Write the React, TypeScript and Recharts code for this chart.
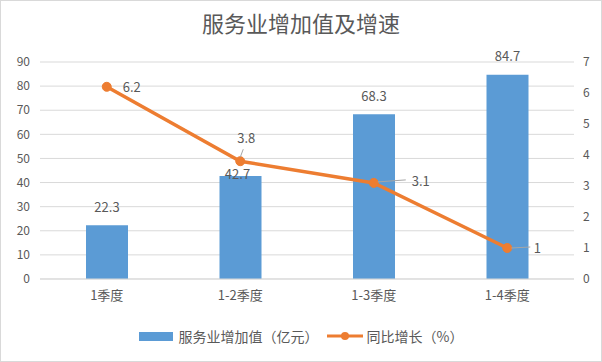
import { ComposedChart, Bar, Line, XAxis, YAxis, CartesianGrid, Legend, LabelList } from "recharts";

const quarters = ["1季度", "1-2季度", "1-3季度", "1-4季度"];
const valueAdded = [22.3, 42.7, 68.3, 84.7];
const growthRate = [6.2, 3.8, 3.1, 1];
const leftTicks = [0, 10, 20, 30, 40, 50, 60, 70, 80, 90];
const rightTicks = [0, 1, 2, 3, 4, 5, 6, 7];

const data = quarters.map((q, i) => ({ quarter: q, value: valueAdded[i], growth: growthRate[i] }));

const FONT = '"Noto Sans CJK SC", "Microsoft YaHei", sans-serif';
const TEXT = "#595959";
const GRID = "#D9D9D9";
const BLUE = "#5B9BD5";
const ORANGE = "#ED7D31";

// label placement, excel-style (bar labels sit above the bar, one nudged down)
const barLabelShift = [
  { dx: 0, dy: -19 },
  { dx: -3, dy: -3 },
  { dx: 0, dy: -19 },
  { dx: 0, dy: -19 },
];
const lineLabelShift = [
  { dx: 25, dy: 0, leader: null },
  { dx: 6, dy: -24, leader: [3, -12, 0, -4] },
  { dx: 47, dy: -2, leader: [4, -1, 32, -3] },
  { dx: 30, dy: -1, leader: [4, 0, 23, -1] },
];

function BarValue(props: any) {
  const { x, y, width, value, index } = props;
  const s = barLabelShift[index];
  return (
    <text x={x + width / 2 + s.dx} y={y + s.dy} textAnchor="middle" dominantBaseline="central" fill={TEXT} fontSize={13} fontFamily={FONT}>
      {value}
    </text>
  );
}

function LineValue(props: any) {
  const { x, y, value, index } = props;
  const s = lineLabelShift[index];
  return (
    <g>
      {s.leader && (
        <line x1={x + s.leader[0]} y1={y + s.leader[1]} x2={x + s.leader[2]} y2={y + s.leader[3]} stroke="#A6A6A6" strokeWidth={1} />
      )}
      <text x={x + s.dx} y={y + s.dy} textAnchor="middle" dominantBaseline="central" fill={TEXT} fontSize={13} fontFamily={FONT}>
        {value}
      </text>
    </g>
  );
}

function LegendBox() {
  return (
    <div style={{ height: 24, display: "flex", justifyContent: "center", alignItems: "center", fontFamily: FONT, fontSize: 14, color: TEXT }}>
      <span style={{ display: "inline-block", width: 34, height: 9, background: BLUE, marginRight: 6 }} />
      <span>服务业增加值（亿元）</span>
      <svg width={36} height={10} style={{ marginLeft: 8, marginRight: 4 }}>
        <line x1={0} y1={5} x2={36} y2={5} stroke={ORANGE} strokeWidth={3} />
        <circle cx={18} cy={5} r={4} fill={ORANGE} />
      </svg>
      <span>同比增长（%）</span>
    </div>
  );
}

export default function App() {
  return (
    <div style={{ position: "absolute", left: 0, top: 0, width: 602, height: 362, background: "#fff" }}>
      <div style={{ position: "absolute", top: 8, left: 0, width: 602, textAlign: "center", fontFamily: FONT, fontSize: 22, color: TEXT, lineHeight: "28px" }}>
        服务业增加值及增速
      </div>
      <ComposedChart width={602} height={362} data={data} margin={{ top: 62, right: 0, bottom: 14, left: 0 }}>
        <CartesianGrid yAxisId="left" vertical={false} stroke={GRID} />
        <XAxis
          dataKey="quarter"
          height={45}
          tickSize={0}
          tickMargin={12}
          axisLine={{ stroke: GRID }}
          tick={{ fill: TEXT, fontSize: 13, fontFamily: FONT }}
        />
        <YAxis
          yAxisId="left"
          width={40}
          domain={[0, 90]}
          ticks={leftTicks}
          axisLine={false}
          tickLine={false}
          tickSize={0}
          tickMargin={10}
          tick={{ fill: TEXT, fontSize: 12, fontFamily: FONT }}
        />
        <YAxis
          yAxisId="right"
          orientation="right"
          width={28}
          domain={[0, 7]}
          ticks={rightTicks}
          axisLine={false}
          tickLine={false}
          tickSize={0}
          tickMargin={9}
          tick={{ fill: TEXT, fontSize: 12, fontFamily: FONT, textAnchor: "start" }}
        />
        <Legend verticalAlign="bottom" height={24} content={<LegendBox />} />
        <Bar yAxisId="left" dataKey="value" name="服务业增加值（亿元）" fill={BLUE} barSize={42} isAnimationActive={false}>
          <LabelList dataKey="value" content={<BarValue />} />
        </Bar>
        <Line
          yAxisId="right"
          dataKey="growth"
          name="同比增长（%）"
          stroke={ORANGE}
          strokeWidth={3.5}
          dot={{ r: 4.5, fill: ORANGE, stroke: ORANGE, strokeWidth: 1 }}
          isAnimationActive={false}
        >
          <LabelList dataKey="growth" content={<LineValue />} />
        </Line>
      </ComposedChart>
      <div style={{ position: "absolute", left: 0, top: 0, width: 602, height: 362, boxSizing: "border-box", border: `1px solid ${GRID}`, pointerEvents: "none" }} />
    </div>
  );
}
